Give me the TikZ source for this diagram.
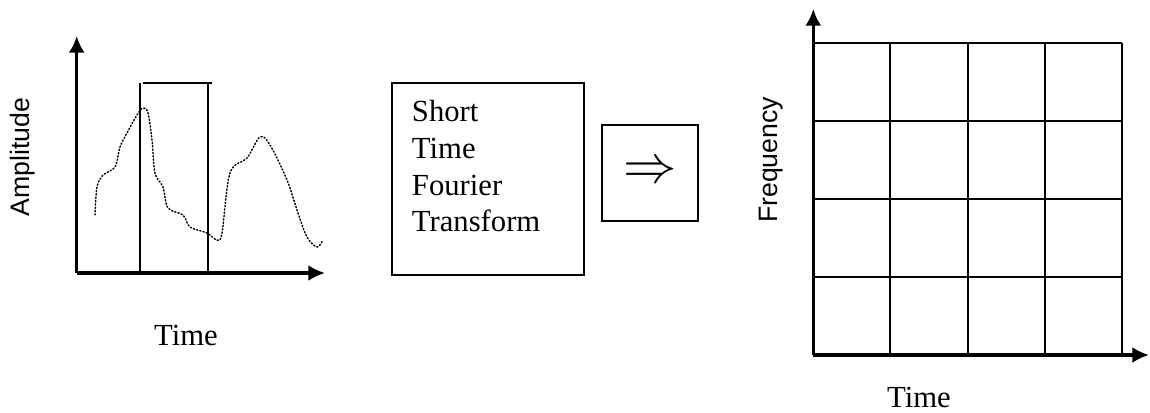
\documentclass[tikz,border=0pt]{standalone}
\usepackage{fontspec}
\usepackage{graphicx}
\setmainfont{Liberation Serif}
\setsansfont{Liberation Sans}
\usetikzlibrary{arrows.meta}

\tikzset{
  axis/.style={line width=2.3pt,-{Latex[length=12.5pt,width=12pt]}},
  thinline/.style={line width=1.5pt},
  sig/.style={line width=1.1pt,dash pattern=on 0.9pt off 1.6pt,line cap=round},
  serif label/.style={inner sep=0pt,font=\fontsize{23}{27.5}\selectfont},
  sans label/.style={inner sep=0pt,font=\sffamily\fontsize{20}{24}\selectfont,rotate=90}
}

\begin{document}
\begin{tikzpicture}[x=0.75pt,y=0.75pt,yscale=-1,xscale=1]
\useasboundingbox (0,0) rectangle (1150,413);

% left plot: axes
\coordinate (o1) at (76.7,273);
\coordinate (ytip1) at (76.7,36);
\coordinate (xtip1) at (325,273);
\draw [axis] (o1) -- (ytip1);
\draw [axis] (o1) -- (xtip1);

% window
\coordinate (wa) at (140,273);
\coordinate (wb) at (140,83);
\coordinate (wc) at (212,83);
\coordinate (wd) at (208,83);
\coordinate (we) at (208,273);
\draw [thinline] (wa) -- (wb);
\draw [thinline] (143,83) -- (wc);
\draw [thinline] (wd) -- (we);

% signal
\draw [sig] plot [smooth, tension=0.55] coordinates {(95,215) (97,187) (103,175) (115,167) (120,147) (127,133) (137,115) (143,108) (148,113) (152,140) (155,173) (163,187) (168,208) (183,215) (190,227) (207,233) (217,240) (222,233) (230,173) (247,158) (260,137) (270,145) (287,180) (298,213) (307,237) (317,247) (323,240)};

% labels
\node [sans label] (amp) at (23,157) {Amplitude};
\node [serif label, anchor=base] (time1) at (186,346) {Time};

% STFT box
\node [draw, thinline, minimum width=144pt, minimum height=144pt, anchor=north west, inner sep=0pt] (stft) at (390.7,81.7) {};
\node [serif label, anchor=base west, align=left] (stfttext) at (411.7,232) {Short\\Time\\Fourier\\Transform};

% arrow box
\node [draw, thinline, minimum width=72pt, minimum height=72pt, anchor=north west, inner sep=0pt] (arr) at (601,124) {};
\node [inner sep=0pt] (arrsym) at (arr.center) {\resizebox{40pt}{!}{$\Rightarrow$}};

% right plot: grid
\foreach \i in {0,...,4}
  \draw [thinline] (813.3+77.1*\i,43.3) -- (813.3+77.1*\i,355);
\foreach \j in {0,...,4}
  \draw [thinline] (813.3,43.3+77.9*\j) -- (1121.7,43.3+77.9*\j);

% right plot: axes
\coordinate (o2) at (813.3,355);
\coordinate (ytip2) at (813.3,9);
\coordinate (xtip2) at (1149,355);
\draw [axis] (o2) -- (ytip2);
\draw [axis] (o2) -- (xtip2);

\node [sans label] (freq) at (771,160) {Frequency};
\node [serif label, anchor=base] (time2) at (919,407) {Time};

\end{tikzpicture}
\end{document}
